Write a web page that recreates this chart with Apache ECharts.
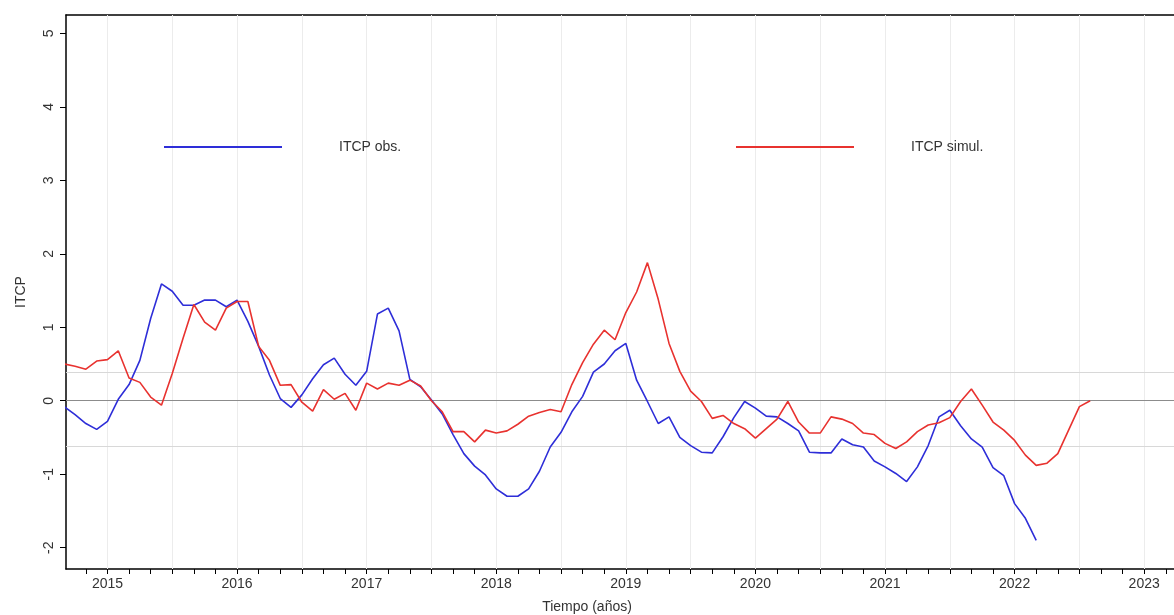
<!DOCTYPE html>
<html>
<head>
<meta charset="utf-8">
<script src="https://cdn.jsdelivr.net/npm/echarts@6/dist/echarts.min.js"></script>
<style>
html, body { margin: 0; padding: 0; background: #fff; }
#chart { width: 1174px; height: 615px; }
</style>
</head>
<body>
<div id="chart"></div>
<script>
// monthly values, the first one is September 2014
const firstYear = 2014;
const firstMonth = 9;

const obsValues = [
    -0.08, -0.19, -0.31, -0.39, -0.28, 0.02, 0.22, 0.55, 1.12, 1.59,
    1.49, 1.30, 1.30, 1.37, 1.37, 1.28, 1.37, 1.08, 0.74, 0.35,
    0.03, -0.09, 0.08, 0.30, 0.49, 0.58, 0.36, 0.21, 0.40, 1.18,
    1.26, 0.95, 0.29, 0.19, 0.01, -0.18, -0.46, -0.72, -0.89, -1.01,
    -1.20, -1.30, -1.30, -1.20, -0.96, -0.63, -0.43, -0.15, 0.06, 0.39,
    0.50, 0.68, 0.78, 0.28, -0.01, -0.31, -0.22, -0.50, -0.61, -0.70,
    -0.71, -0.49, -0.23, -0.01, -0.10, -0.21, -0.22, -0.31, -0.41, -0.70,
    -0.71, -0.71, -0.52, -0.60, -0.63, -0.82, -0.90, -0.99, -1.10, -0.90,
    -0.61, -0.22, -0.13, -0.34, -0.52, -0.63, -0.91, -1.02, -1.40, -1.60,
    -1.90
];

const simulValues = [
    0.50, 0.47, 0.43, 0.54, 0.56, 0.68, 0.31, 0.25, 0.05, -0.06,
    0.37, 0.85, 1.31, 1.07, 0.96, 1.26, 1.35, 1.35, 0.74, 0.55,
    0.21, 0.22, -0.02, -0.14, 0.15, 0.02, 0.10, -0.13, 0.24, 0.16,
    0.24, 0.21, 0.28, 0.20, 0.00, -0.15, -0.42, -0.42, -0.56, -0.40,
    -0.44, -0.41, -0.32, -0.21, -0.16, -0.12, -0.15, 0.22, 0.52, 0.77,
    0.96, 0.83, 1.20, 1.48, 1.88, 1.38, 0.78, 0.40, 0.13, -0.01,
    -0.24, -0.20, -0.31, -0.38, -0.51, -0.38, -0.25, -0.01, -0.29, -0.44,
    -0.44, -0.22, -0.25, -0.31, -0.44, -0.46, -0.58, -0.65, -0.56, -0.42,
    -0.33, -0.30, -0.23, -0.01, 0.16, -0.06, -0.29, -0.40, -0.54, -0.74,
    -0.88, -0.85, -0.72, -0.40, -0.08, 0.00
];

const yearLabels = [2015, 2016, 2017, 2018, 2019, 2020, 2021, 2022, 2023];
const yLabels = [-2, -1, 0, 1, 2, 3, 4, 5];
const bandLines = [0.39, -0.62];

const font = "'Liberation Sans', Arial, sans-serif";

function toPoints(values) {
    return values.map((v, i) => [firstYear + (firstMonth - 1 + i) / 12, v]);
}

// ticks every two months, grid every half year
let monthTicks = [];
for (let k = 0; k <= 50; k++) monthTicks.push(firstYear + (10 + 2 * k) / 12);
let halfYears = [];
for (let y = 2015; y <= 2023; y += 0.5) halfYears.push(y);

let guides = halfYears.map(v => ({ xAxis: v, lineStyle: { color: '#ececec', width: 1, type: 'solid' } }));
guides.push({ yAxis: 0, lineStyle: { color: '#8c8c8c', width: 1, type: 'solid' } });
bandLines.forEach(v => guides.push({ yAxis: v, lineStyle: { color: '#d8d8d8', width: 1, type: 'solid' } }));

let dom = document.getElementById('chart');
let myChart = echarts.init(dom);

let legendBase = {
    top: 135, icon: 'rect', itemWidth: 118, itemHeight: 2,
    textStyle: { fontSize: 14, color: '#333', fontFamily: font, padding: [0, 0, 0, 52] }
};

let options = {
    animation: false,
    textStyle: { fontFamily: font },
    grid: { left: 66, right: 0, top: 15, bottom: 46, outerBoundsMode: 'none', containLabel: false },
    legend: [
        Object.assign({ data: ['ITCP obs.'], left: 159 }, legendBase),
        Object.assign({ data: ['ITCP simul.'], left: 731 }, legendBase)
    ],
    xAxis: [
        {
            type: 'value', min: 2014.68, max: 2023.23,
            axisLine: { onZero: false, lineStyle: { color: '#000', width: 1.5 } },
            axisTick: { customValues: monthTicks, length: 5, lineStyle: { color: '#000' } },
            axisLabel: {
                customValues: yearLabels, fontSize: 14, color: '#333', margin: 8,
                formatter: v => String(Math.round(v))
            },
            splitLine: { show: false },
            name: 'Tiempo (años)', nameLocation: 'middle', nameGap: 31,
            nameTextStyle: { fontSize: 14, color: '#333', padding: [0, 66, 0, 0] }
        },
        {
            type: 'value', position: 'top', min: 2014.68, max: 2023.23,
            axisLine: { onZero: false, lineStyle: { color: '#000', width: 1.5 } },
            axisTick: { show: false }, axisLabel: { show: false }, splitLine: { show: false }
        }
    ],
    yAxis: {
        type: 'value', min: -2.29, max: 5.25,
        axisLine: { show: true, onZero: false, lineStyle: { color: '#000', width: 1.5 } },
        axisTick: { show: true, customValues: yLabels, length: 6, lineStyle: { color: '#000' } },
        axisLabel: { customValues: yLabels, rotate: 90, fontSize: 14, color: '#333', margin: 10 },
        splitLine: { show: false },
        name: 'ITCP', nameLocation: 'middle', nameGap: 38,
        nameTextStyle: { fontSize: 14, color: '#333' }
    },
    series: [
        {
            name: 'guides', type: 'line', data: toPoints(obsValues), z: 1,
            symbol: 'none', silent: true, lineStyle: { opacity: 0 },
            markLine: { z: 1, silent: true, symbol: 'none', label: { show: false }, animation: false, data: guides }
        },
        {
            name: 'ITCP obs.', type: 'line', data: toPoints(obsValues), z: 3,
            symbol: 'none', color: '#2e2ed8', lineStyle: { color: '#2e2ed8', width: 1.6 }
        },
        {
            name: 'ITCP simul.', type: 'line', data: toPoints(simulValues), z: 4,
            symbol: 'none', color: '#e8322f', lineStyle: { color: '#e8322f', width: 1.6 }
        }
    ]
};

myChart.setOption(options);
</script>
</body>
</html>
